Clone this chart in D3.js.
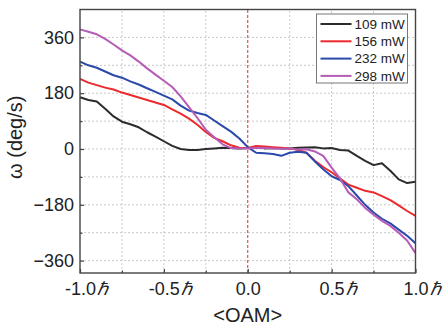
<!DOCTYPE html>
<html lang="en">
<head>
<meta charset="UTF-8">
<title>omega vs OAM</title>
<style>
    body{ margin:0; background:#fff; }
    text{ font-family: "Liberation Sans", Arial, sans-serif; fill:#222; }
</style>
</head>
<body>
<script src="https://cdn.jsdelivr.net/npm/d3@7"></script>
<script>
// OAM positions (units of hbar)
const oam = [-1.00,-0.95,-0.90,-0.85,-0.80,-0.75,-0.70,-0.65,-0.60,-0.55,-0.50,
             -0.45,-0.40,-0.35,-0.30,-0.25,-0.20,-0.15,-0.10,-0.05,0.00,
             0.05,0.10,0.15,0.20,0.25,0.30,0.35,0.40,0.45,0.50,
             0.55,0.60,0.65,0.70,0.75,0.80,0.85,0.90,0.95,1.00];

// rotation speed (deg/s) per laser power
const w109 = [167,158,153,130,105,88,80,70,54,40,25,
              10,0,-3,-3,0,2,4,3,2,3,
              5,2,3,2,2,4,5,6,2,3,
              -3,-5,-22,-38,-52,-46,-70,-98,-110,-106];
const w156 = [226,214,206,198,192,182,174,166,158,150,142,
              128,114,98,78,55,36,25,12,4,3,
              10,8,6,4,2,-3,-12,-38,-58,-75,
              -95,-115,-125,-135,-140,-152,-165,-182,-200,-216];
const w232 = [282,270,262,250,238,230,218,208,196,184,172,
              160,140,124,116,110,92,74,56,34,6,
              -12,-14,-16,-22,-12,-9,-12,-40,-65,-88,
              -100,-120,-150,-180,-205,-225,-240,-260,-280,-304];
const w298 = [386,378,370,355,337,318,302,282,260,240,220,
              200,170,135,100,62,38,15,3,2,2,
              4,3,2,1,2,-2,-1,-8,-22,-60,
              -95,-140,-162,-190,-212,-232,-248,-270,-295,-336];

const puissances = ['109 mW','156 mW','232 mW','298 mW'];
const couleurs = ['#2b2b2b','#ec2a2d','#2a49ab','#b55cb7'];

const xTicks = [-1,-0.5,0,0.5,1];
const xTickLabels = ['-1.0','-0.5','0.0','0.5','1.0'];
const xMinor = [-0.75,-0.25,0.25,0.75];
const yTicks = [360,180,0,-180,-360];
const yMinor = [270,90,-90,-270];

const series = [w109,w156,w232,w298].map((v,i) => ({
    nom : puissances[i],
    couleur : couleurs[i],
    points : v.map((w,j) => ({x : oam[j], y : w}))
}));

const largeur = 443, hauteur = 327;
const marge = {top: 9.5, right: 27.5, bottom: 54, left: 80};

const svg = d3.select('body').append('svg')
    .attr('width',largeur)
    .attr('height',hauteur);

const x = d3.scaleLinear().domain([-1,1]).range([marge.left, largeur - marge.right]);
const y = d3.scaleLinear().domain([-400,450]).range([hauteur - marge.bottom, marge.top]);

// grille pointillee
const grille = svg.append('g').attr('stroke','#c9c9c9').attr('stroke-width',1).attr('stroke-dasharray','2,2');
grille.selectAll('line.v')
    .data(xMinor.concat([-0.5,0.5]))
    .enter().append('line')
        .attr('x1',d => x(d)).attr('x2',d => x(d))
        .attr('y1',y(-400)).attr('y2',y(450));
grille.selectAll('line.h')
    .data(yTicks.concat(yMinor))
    .enter().append('line')
        .attr('x1',x(-1)).attr('x2',x(1))
        .attr('y1',d => y(d)).attr('y2',d => y(d));

// ligne rouge a OAM = 0
svg.append('line')
    .attr('x1',x(0)).attr('x2',x(0))
    .attr('y1',y(-400)).attr('y2',y(450))
    .attr('stroke','#e62a2e').attr('stroke-width',1)
    .attr('stroke-dasharray','3,2');

// courbes
const ligne = d3.line().x(d => x(d.x)).y(d => y(d.y));
svg.append('g').selectAll('path')
    .data(series)
    .enter().append('path')
        .attr('d',d => ligne(d.points))
        .attr('fill','none')
        .attr('stroke',d => d.couleur)
        .attr('stroke-width',2)
        .attr('stroke-linejoin','round');

// axes (ticks vers l'interieur)
svg.append('g')
    .attr('transform',`translate(${marge.left},0)`)
    .call(d3.axisLeft(y).tickValues(yTicks).tickSizeInner(-4).tickSizeOuter(0).tickPadding(6));
svg.append('g')
    .attr('transform',`translate(${marge.left},0)`)
    .call(d3.axisLeft(y).tickValues(yMinor).tickSizeInner(-2.5).tickSizeOuter(0).tickFormat(''));

const axeX = svg.append('g')
    .attr('transform',`translate(0,${y(-400)})`)
    .call(d3.axisBottom(x).tickValues(xTicks).tickSizeInner(-4).tickSizeOuter(0).tickPadding(9)
        .tickFormat((d,i) => xTickLabels[i]));
svg.append('g')
    .attr('transform',`translate(0,${y(-400)})`)
    .call(d3.axisBottom(x).tickValues(xMinor).tickSizeInner(-2.5).tickSizeOuter(0).tickFormat(''));

svg.selectAll('.domain').remove();
svg.selectAll('.tick line').attr('stroke','#444').attr('stroke-width',1.2);
svg.selectAll('.tick text')
    .attr('font-family','"Liberation Sans", Arial, sans-serif')
    .attr('font-size',18)
    .attr('fill','#222');

// ajout du symbole hbar apres les etiquettes non nulles
axeX.selectAll('.tick').each(function(d){
    if(d === 0) return;
    const t = d3.select(this).select('text');
    const w = t.node().getComputedTextLength();
    d3.select(this).append('text')
        .attr('x',w/2 + 1)
        .attr('y',9)
        .attr('dy','0.71em')
        .attr('text-anchor','start')
        .attr('font-family','"DejaVu Serif", serif')
        .attr('font-style','italic')
        .attr('font-size',18)
        .attr('fill','#3d5a86')
        .text('\u210F');
});

// cadre
svg.append('rect')
    .attr('x',x(-1)).attr('y',y(450))
    .attr('width',x(1) - x(-1)).attr('height',y(-400) - y(450))
    .attr('fill','none').attr('stroke','#444').attr('stroke-width',1.4);

// titres des axes
svg.append('text')
    .attr('x',(x(-1) + x(1))/2).attr('y',322)
    .attr('text-anchor','middle')
    .attr('font-size',20)
    .text('<OAM>');
svg.append('text')
    .attr('transform',`translate(22,${(y(-400) + y(450))/2 - 4}) rotate(-90)`)
    .attr('text-anchor','middle')
    .attr('font-size',20)
    .text('\u03C9 (deg/s)');

// legende
const leg = svg.append('g').attr('transform','translate(316.5,14)');
leg.append('rect')
    .attr('width',91).attr('height',69)
    .attr('fill','#fff').attr('stroke','#777').attr('stroke-width',1);
const items = leg.selectAll('g.item')
    .data(series)
    .enter().append('g')
        .attr('transform',(d,i) => `translate(0,${10 + i*17.3})`);
items.append('line')
    .attr('x1',4).attr('x2',35)
    .attr('stroke',d => d.couleur).attr('stroke-width',2);
items.append('text')
    .attr('x',38).attr('dy','0.35em')
    .attr('font-size',13.5)
    .text(d => d.nom);
</script>
</body>
</html>
